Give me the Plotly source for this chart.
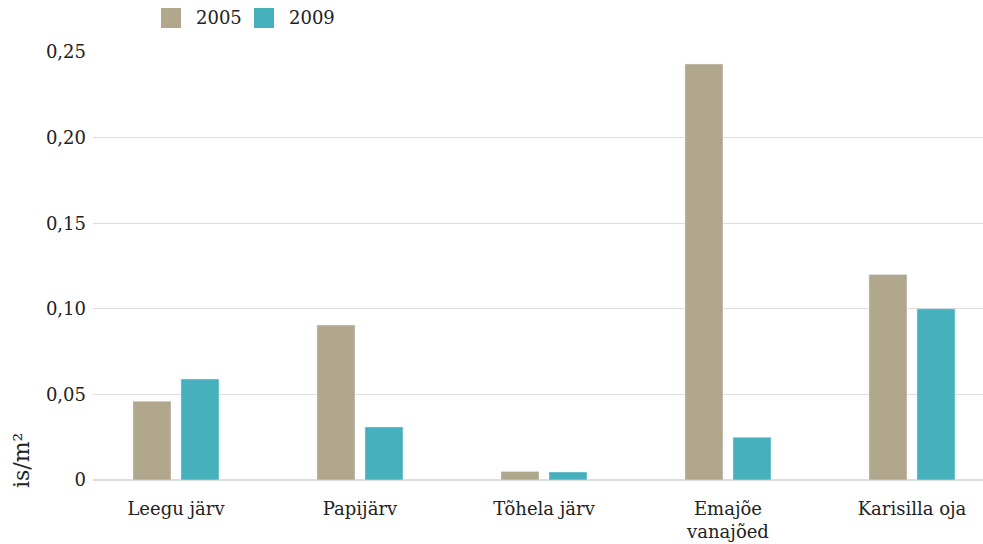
import plotly.graph_objects as go

categories = ["Leegu järv", "Papijärv", "Tõhela järv", "Emajõe<br>vanajõed", "Karisilla oja"]
series_names = ["2005", "2009"]
values_2005 = [0.046, 0.0905, 0.005, 0.243, 0.120]
values_2009 = [0.059, 0.031, 0.0047, 0.025, 0.100]
colors = ["#b0a78c", "#46b0bc"]
tick_vals = [0, 0.05, 0.10, 0.15, 0.20, 0.25]
tick_text = ["0", "0,05", "0,10", "0,15", "0,20", "0,25"]

FONT = "DejaVu Serif"
W, H = 983, 544
L, R, T, B = 93, 0, 52, 64
pw, ph = W - L - R, H - T - B

def px_x(x):
    return (x - L) / pw

def px_y(y):
    return (H - B - y) / ph

fig = go.Figure()
for name, vals, col in zip(series_names, [values_2005, values_2009], colors):
    fig.add_trace(go.Bar(name=name, x=categories, y=vals, marker_color=col, showlegend=False))

shapes = []
annotations = [dict(text="is/m²", textangle=-90, xref="paper", yref="paper",
                    x=px_x(21), y=px_y(461), xanchor="center", yanchor="middle",
                    showarrow=False, font=dict(size=22))]
for i, (name, col) in enumerate(zip(series_names, colors)):
    x0 = 161 + i * 93
    shapes.append(dict(type="rect", xref="paper", yref="paper",
                       x0=px_x(x0), x1=px_x(x0 + 20), y0=px_y(28), y1=px_y(8),
                       fillcolor=col, line=dict(width=0)))
    annotations.append(dict(text=name, xref="paper", yref="paper", x=px_x(x0 + 33),
                            y=px_y(18), xanchor="left", yanchor="middle",
                            showarrow=False, font=dict(size=18)))

fig.update_layout(
    width=W, height=H,
    margin=dict(l=L, r=R, t=T, b=B),
    barmode="group", bargap=0.478, bargroupgap=0.208,
    plot_bgcolor="white", paper_bgcolor="white",
    font=dict(family=FONT, size=18, color="#222"),
    xaxis=dict(range=[-0.451, 4.386], showgrid=False, ticks="", tickfont=dict(size=18),
               ticklabelstandoff=16),
    yaxis=dict(range=[0, 0.25], tickvals=tick_vals, ticktext=tick_text,
               showgrid=True, gridcolor="#dddddd", zeroline=True, zerolinecolor="#dddddd",
               zerolinewidth=1.5, tickfont=dict(size=18), ticks="", ticklabelstandoff=6),
    shapes=shapes,
    annotations=annotations,
)
fig.write_html("out.html", config={"displayModeBar": False},
               post_script="document.body.style.margin='0';")
